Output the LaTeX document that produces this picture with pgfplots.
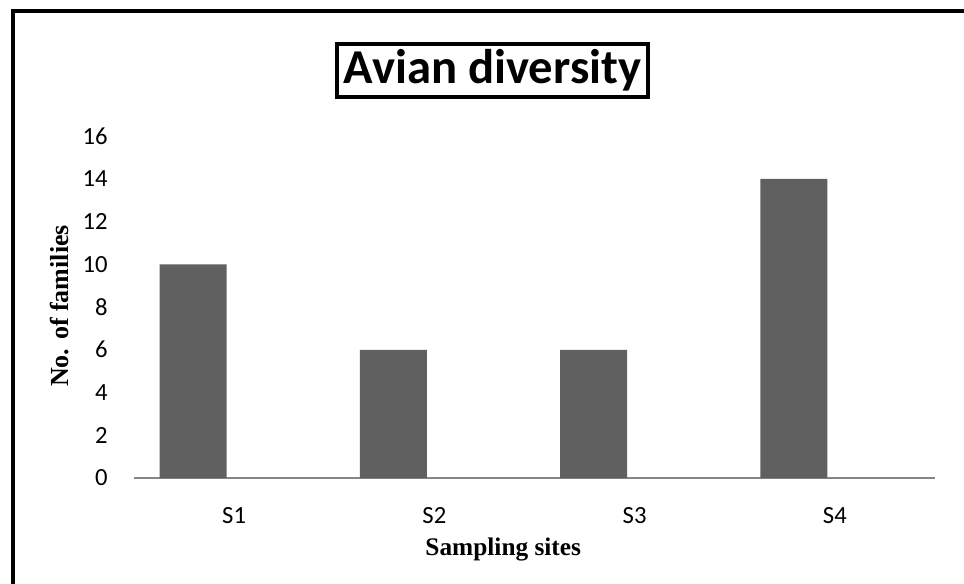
\documentclass[border=0pt]{standalone}
\usepackage{fontspec}
\setmainfont{Carlito}
\newfontfamily\tnr{Liberation Serif}
\usepackage{pgfplots}
\pgfplotsset{compat=1.18}
\definecolor{barcol}{RGB}{96,96,96}
\definecolor{axcol}{RGB}{134,134,134}
\begin{document}
\begin{tikzpicture}
\path[use as bounding box] (0,0) rectangle (723pt,-437.25pt);
\begin{scope}[x=0.75pt,y=-0.75pt]
\draw[line width=3.5pt] (13,600) -- (13,11) -- (990,11);
\node[draw, line width=2.4pt, minimum width=233.25pt, minimum height=39.75pt, inner sep=0pt,
      font=\bfseries\fontsize{36.5}{40}\selectfont] at (492.5,70.5) {Avian diversity};
\end{scope}
\begin{axis}[
  at={(100.5pt,-358.5pt)}, anchor=south west,
  scale only axis, width=600.75pt, height=256.5pt,
  xmin=-0.5, xmax=3.5, ymin=0, ymax=16,
  ytick={0,2,...,16}, xtick={0,1,2,3}, xticklabels={S1,S2,S3,S4},
  major tick length=0,
  axis x line=bottom, axis y line=left,
  y axis line style={draw=none},
  x axis line style={-, draw=axcol, line width=1.1pt},
  /pgf/number format/assume math mode=true,
  yticklabel style={inner sep=0pt, xshift=-19.5pt, font=\fontsize{18.5}{22}\selectfont},
  xticklabel style={inner sep=0pt, yshift=-22pt, font=\fontsize{18.5}{22}\selectfont},
  xlabel={\tnr\bfseries Sampling sites},
  ylabel={\tnr\bfseries No. of families},
  xlabel style={at={(rel axis cs:0.461,-0.2105)}, anchor=center, font=\fontsize{19}{22}\selectfont},
  ylabel style={at={(rel axis cs:-0.0924,0.503)}, anchor=center, rotate=0, font=\fontsize{19.5}{22}\selectfont},
  clip=false,
]
\addplot[ybar, bar width=50.25pt, bar shift=-30.75pt, fill=barcol, draw=none]
  coordinates {(0,10) (1,6) (2,6) (3,14)};
\end{axis}
\end{tikzpicture}
\end{document}
